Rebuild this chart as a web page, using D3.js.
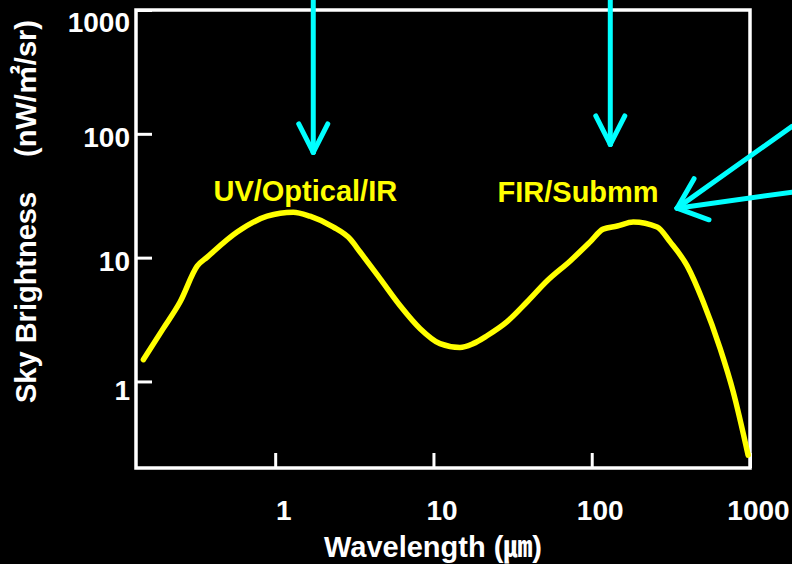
<!DOCTYPE html>
<html>
<head>
<meta charset="utf-8">
<script src="https://cdn.jsdelivr.net/npm/d3@7"></script>
<style>
  html, body { margin: 0; padding: 0; background: #000; }
  text { font-family: "Liberation Sans", Arial, "Noto Sans CJK JP", sans-serif; font-weight: bold; }
</style>
</head>
<body>
<div id="chart"></div>
<script>
// Sky brightness spectrum
var wavelength = [0.147, 0.196, 0.251, 0.322, 0.372, 0.575, 0.89, 1.30, 1.66, 2.32, 2.98, 3.44,
  4.61, 6.16, 8.24, 11.0, 14.7, 17.8, 21.8, 29.2, 39.1, 52.3, 73.1, 97.7, 118, 145, 183,
  259, 313, 401, 506, 648, 782, 973];
var brightness = [1.50, 2.67, 4.40, 8.57, 10.1, 16.1, 21.6, 23.3, 21.6, 17.7, 14.1, 11.1,
  6.74, 4.09, 2.67, 2.02, 1.88, 2.02, 2.34, 3.04, 4.40, 6.50, 9.40, 13.4, 17.0, 18.0, 19.4,
  17.7, 13.4, 8.57, 4.40, 1.84, 0.831, 0.254];

var xTicks = [1, 10, 100, 1000];
var yTicks = [1, 10, 100, 1000];

// peak labels: text, wavelength, brightness
var peakNames = ["UV/Optical/IR", "FIR/Submm"];
var peakX = [1.55, 82];
var peakY = [28.6, 28];

// cyan arrows: tail and tip in data units
var arrowTail = [[1.74, 1250], [131, 1250], [1845, 115], [1845, 33.8]];
var arrowTip = [[1.74, 70.8], [131, 82], [346, 25.1], [346, 25.1]];

var svgWidth = 792, svgHeight = 564;
var margin = { top: 10, right: 42, bottom: 96, left: 136 };
var chartWidth = svgWidth - margin.left - margin.right;
var chartHeight = svgHeight - margin.top - margin.bottom;

var svg = d3.select("#chart").append("svg")
  .attr("width", svgWidth)
  .attr("height", svgHeight)
  .style("background", "#000");

var chartGroup = svg.append("g")
  .attr("transform", `translate(${margin.left}, ${margin.top})`);

var xScale = d3.scaleLog().domain([0.132, 1000]).range([0, chartWidth]);
var yScale = d3.scaleLog().domain([0.2, 1000]).range([chartHeight, 0]);

// frame
chartGroup.append("rect")
  .attr("width", chartWidth)
  .attr("height", chartHeight)
  .attr("fill", "none")
  .attr("stroke", "#fff")
  .attr("stroke-width", 3.5);

// axes with inward ticks
var xAxis = d3.axisBottom(xScale).tickValues(xTicks).tickSize(-15).tickPadding(0).tickFormat(d3.format("d"));
var yAxis = d3.axisLeft(yScale).tickValues(yTicks).tickSize(-16).tickPadding(0).tickFormat(d3.format("d"));

var gx = chartGroup.append("g")
  .attr("transform", `translate(0, ${chartHeight})`)
  .call(xAxis);
var gy = chartGroup.append("g").call(yAxis);

[gx, gy].forEach(function(g) {
  g.select(".domain").remove();
  g.selectAll(".tick line").attr("stroke", "#fff").attr("stroke-width", 3);
  g.selectAll(".tick text")
    .attr("fill", "#fff")
    .style("font-size", "28px")
    .style("font-family", "'Liberation Sans', Arial, sans-serif")
    .style("font-weight", "bold");
});

gx.selectAll(".tick text")
  .attr("y", 52)
  .attr("dy", 0)
  .attr("x", 8);

gy.selectAll(".tick text")
  .attr("x", -6)
  .attr("dy", "0.35em")
  .attr("y", d => d === 1000 ? 12 : (d === 1 ? 8 : 3));

// sky brightness curve
var line = d3.line()
  .x((d, i) => xScale(wavelength[i]))
  .y(d => yScale(d))
  .curve(d3.curveMonotoneX);

chartGroup.append("path")
  .datum(brightness)
  .attr("d", line)
  .attr("fill", "none")
  .attr("stroke", "#ffff00")
  .attr("stroke-width", 5.5)
  .attr("stroke-linecap", "round")
  .attr("stroke-linejoin", "round");

// peak labels
chartGroup.selectAll(".peak")
  .data(peakNames)
  .enter()
  .append("text")
  .attr("class", "peak")
  .attr("x", (d, i) => xScale(peakX[i]))
  .attr("y", (d, i) => yScale(peakY[i]))
  .attr("text-anchor", "middle")
  .attr("fill", "#ffff00")
  .style("font-size", "29px")
  .text(d => d);

// cyan arrows
var arrowGroup = svg.append("g")
  .attr("transform", `translate(${margin.left}, ${margin.top})`)
  .attr("stroke", "#00ffff")
  .attr("stroke-width", 5)
  .attr("stroke-linecap", "round")
  .attr("fill", "none");

arrowTail.forEach(function(t, i) {
  var p = arrowTip[i];
  arrowGroup.append("line")
    .attr("x1", xScale(t[0])).attr("y1", yScale(t[1]))
    .attr("x2", xScale(p[0])).attr("y2", yScale(p[1]));
});

// arrow heads: tip, back direction (deg), half angle, length
function arrowHead(tip, backDeg, half, len) {
  var tx = xScale(tip[0]), ty = yScale(tip[1]);
  [-half, half].forEach(function(a) {
    var r = (backDeg + a) * Math.PI / 180;
    arrowGroup.append("line")
      .attr("x1", tx).attr("y1", ty)
      .attr("x2", tx + len * Math.cos(r))
      .attr("y2", ty + len * Math.sin(r));
  });
}
arrowHead(arrowTip[0], -90, 27, 32);
arrowHead(arrowTip[1], -90, 27, 32);
arrowHead(arrowTip[2], -20, 40, 34);

// axis titles
svg.append("text")
  .attr("x", 433)
  .attr("y", 557)
  .attr("text-anchor", "middle")
  .attr("fill", "#fff")
  .style("font-size", "29px")
  .text("Wavelength (㎛)");

svg.append("text")
  .attr("transform", "translate(36, 403) rotate(-90)")
  .attr("fill", "#fff")
  .style("font-size", "29px")
  .text("Sky Brightness");

svg.append("text")
  .attr("transform", "translate(36, 20) rotate(-90)")
  .attr("text-anchor", "end")
  .attr("fill", "#fff")
  .style("font-size", "29px")
  .text("(nW/㎡/sr)");
</script>
</body>
</html>
